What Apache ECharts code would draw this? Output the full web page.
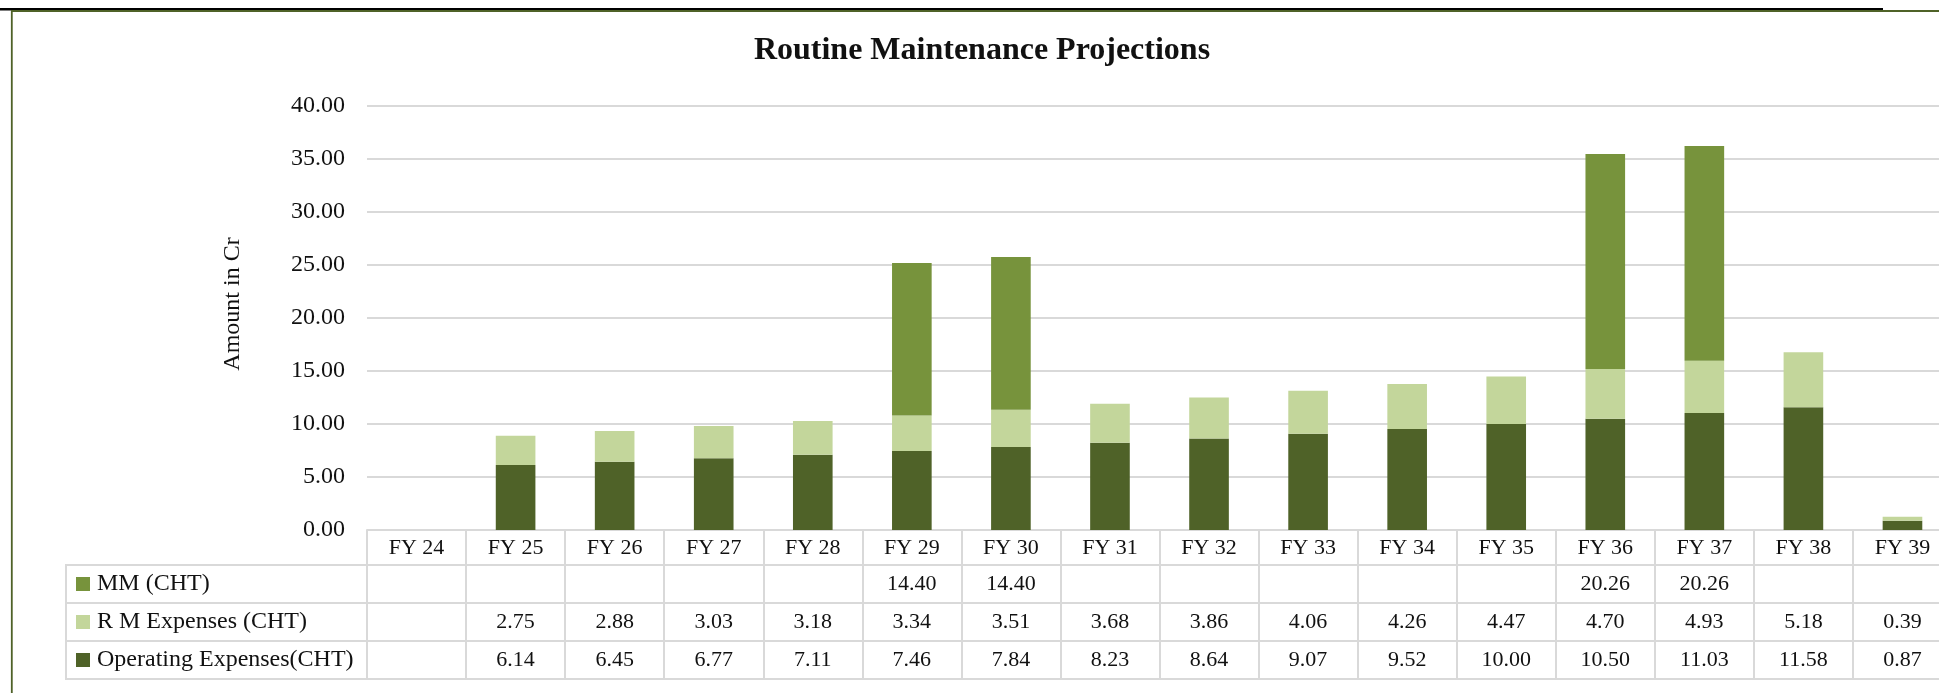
<!DOCTYPE html>
<html>
<head>
<meta charset="utf-8">
<title>Routine Maintenance Projections</title>
<script src="https://cdn.jsdelivr.net/npm/echarts@6/dist/echarts.min.js"></script>
<style>
  html, body { margin: 0; padding: 0; background: #ffffff; overflow: hidden; }
  #chart { width: 1964px; height: 693px; }
</style>
</head>
<body>
<div id="chart"></div>
<script>
// Financial years shown along the category axis
const years = ['FY 24', 'FY 25', 'FY 26', 'FY 27', 'FY 28', 'FY 29', 'FY 30', 'FY 31',
               'FY 32', 'FY 33', 'FY 34', 'FY 35', 'FY 36', 'FY 37', 'FY 38', 'FY 39'];

// Series values (Rs. Cr); null = no entry for that year
const mmCht = [null, null, null, null, null, 14.40, 14.40, null,
               null, null, null, null, 20.26, 20.26, null, null];
const rmExpenses = [null, 2.75, 2.88, 3.03, 3.18, 3.34, 3.51, 3.68,
                    3.86, 4.06, 4.26, 4.47, 4.70, 4.93, 5.18, 0.39];
const operatingExpenses = [null, 6.14, 6.45, 6.77, 7.11, 7.46, 7.84, 8.23,
                           8.64, 9.07, 9.52, 10.00, 10.50, 11.03, 11.58, 0.87];

// Value axis ticks
const yMin = 0;
const yMax = 40;
const yStep = 5;

const seriesNames = ['MM (CHT)', 'R M Expenses (CHT)', 'Operating Expenses(CHT)'];
const colors = { mm: '#77933C', rm: '#C3D69B', op: '#4F6228' };

const FONT = '"Liberation Serif", "Times New Roman", serif';
const TEXT = '#111111';
const RULE = '#D9D9D9';

const fmt = v => (v === null || v === undefined) ? '' : v.toFixed(2);

// Data table geometry: row boundaries measured down from the plot's bottom edge
const rowTops = [0, 35, 73, 111];
const rowHeights = [35, 38, 38, 38];
const tableDepth = 149;

// One row of the data table under the plot, drawn as an extra category axis
function tableRow(offset, rowHeight, labelFor) {
  return {
    type: 'category',
    data: years,
    gridIndex: 0,
    position: 'bottom',
    offset: offset,
    boundaryGap: true,
    axisLine: { show: true, lineStyle: { color: RULE, width: 2 } },
    axisTick: { show: true, interval: 0, alignWithLabel: false, length: rowHeight,
                lineStyle: { color: RULE, width: 2 } },
    axisLabel: {
      show: true, interval: 0, margin: Math.round((rowHeight - 22) / 2),
      fontFamily: FONT, fontSize: 22, lineHeight: 22, color: TEXT,
      formatter: labelFor
    },
    splitLine: { show: false }
  };
}

const chart = echarts.init(document.getElementById('chart'), null, { renderer: 'canvas' });

const plotBottom = 530;
const tableLeft = 66;
const plotLeft = 367;

const option = {
  backgroundColor: '#ffffff',
  animation: false,
  title: {
    text: 'Routine Maintenance Projections',
    left: 'center',
    top: 35,
    padding: 0,
    textStyle: { fontFamily: FONT, fontSize: 32, fontWeight: 'bold', color: TEXT }
  },
  legend: {
    orient: 'vertical',
    left: 76,
    top: plotBottom + rowTops[1] + (rowHeights[1] - 24) / 2,
    padding: 0,
    itemWidth: 14,
    itemHeight: 14,
    itemGap: 38 - 24,
    icon: 'rect',
    selectedMode: false,
    data: seriesNames,
    textStyle: { fontFamily: FONT, fontSize: 24, lineHeight: 24, color: TEXT, padding: [0, 0, 0, 2] }
  },
  grid: { left: plotLeft, right: 12, top: 106, bottom: 693 - plotBottom, containLabel: false },
  xAxis: [
    tableRow(rowTops[0], rowHeights[0], (v) => v),
    tableRow(rowTops[1], rowHeights[1], (v, i) => fmt(mmCht[i])),
    tableRow(rowTops[2], rowHeights[2], (v, i) => fmt(rmExpenses[i])),
    tableRow(rowTops[3], rowHeights[3], (v, i) => fmt(operatingExpenses[i])),
    {
      type: 'category', data: years, gridIndex: 0, position: 'bottom', offset: tableDepth,
      axisLine: { show: true, lineStyle: { color: RULE, width: 2 } },
      axisTick: { show: false }, axisLabel: { show: false }, splitLine: { show: false }
    }
  ],
  yAxis: {
    type: 'value',
    min: yMin,
    max: yMax,
    interval: yStep,
    name: 'Amount in Cr',
    nameLocation: 'middle',
    nameGap: 122,
    nameTextStyle: { fontFamily: FONT, fontSize: 24, color: TEXT, padding: [0, 0, 0, 28] },
    axisLine: { show: false },
    axisTick: { show: false },
    axisLabel: { fontFamily: FONT, fontSize: 24, color: TEXT, margin: 22,
                 formatter: v => v.toFixed(2) },
    splitLine: { show: true, lineStyle: { color: RULE, width: 2 } }
  },
  series: [
    {
      name: seriesNames[2], type: 'bar', stack: 'total', xAxisIndex: 0,
      barCategoryGap: '60%', data: operatingExpenses,
      itemStyle: { color: colors.op }
    },
    {
      name: seriesNames[1], type: 'bar', stack: 'total', xAxisIndex: 0,
      barCategoryGap: '60%', data: rmExpenses,
      itemStyle: { color: colors.rm }
    },
    {
      name: seriesNames[0], type: 'bar', stack: 'total', xAxisIndex: 0,
      barCategoryGap: '60%', data: mmCht,
      itemStyle: { color: colors.mm }
    }
  ],
  graphic: [
    // page header rule
    { type: 'line', silent: true, z: 10,
      shape: { x1: 0, y1: 9.2, x2: 1883, y2: 9.2 },
      style: { stroke: '#000000', lineWidth: 2.6 } },
    // chart frame (left and top edges)
    { type: 'polyline', silent: true, z: 10,
      shape: { points: [[11.8, 693], [11.8, 11], [1964, 11]] },
      style: { stroke: '#4F6228', lineWidth: 1.8, fill: null } },
    // row-label column of the data table
    { type: 'rect', silent: true,
      shape: { x: tableLeft, y: plotBottom + rowTops[1], width: plotLeft - tableLeft,
               height: tableDepth - rowTops[1] },
      style: { stroke: RULE, lineWidth: 2, fill: null } },
    { type: 'line', silent: true,
      shape: { x1: tableLeft, y1: plotBottom + rowTops[2], x2: plotLeft, y2: plotBottom + rowTops[2] },
      style: { stroke: RULE, lineWidth: 2 } },
    { type: 'line', silent: true,
      shape: { x1: tableLeft, y1: plotBottom + rowTops[3], x2: plotLeft, y2: plotBottom + rowTops[3] },
      style: { stroke: RULE, lineWidth: 2 } }
  ]
};

chart.setOption(option);
</script>
</body>
</html>
